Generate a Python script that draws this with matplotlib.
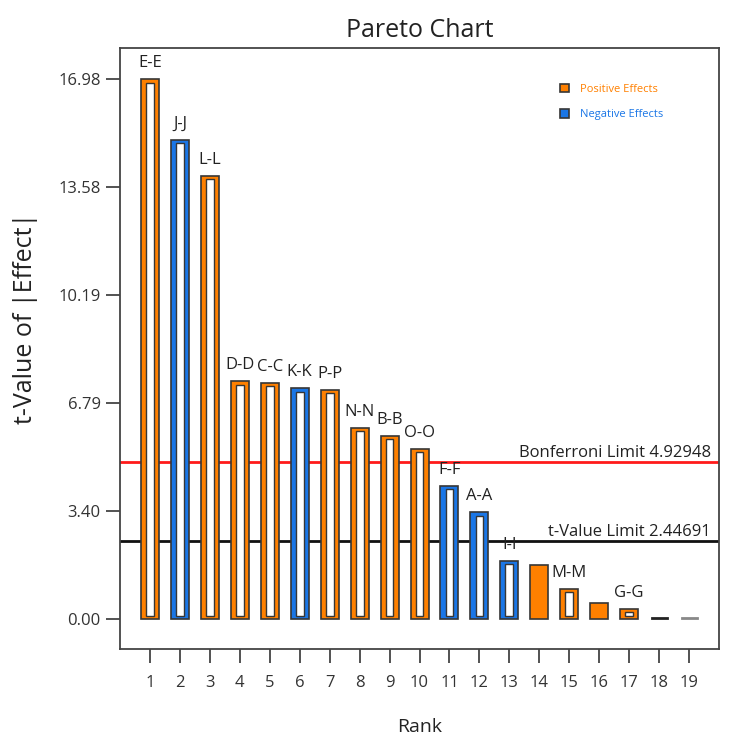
import numpy as np
import matplotlib.pyplot as plt
from matplotlib.patches import Patch

plt.rcParams['font.family'] = ['Open Sans', 'DejaVu Sans']

# t値（絶対値）とラベル
ranks = np.arange(1, 20)
t_values = [16.98, 15.08, 13.95, 7.48, 7.43, 7.26, 7.22, 6.01, 5.77, 5.35,
            4.20, 3.36, 1.84, 1.70, 0.96, 0.52, 0.31, 0.04, 0.02]
term_labels = ['E-E', 'J-J', 'L-L', 'D-D', 'C-C', 'K-K', 'P-P', 'N-N', 'B-B', 'O-O',
               'F-F', 'A-A', 'I-I', '', 'M-M', '', 'G-G', '', '']
signs = ['+', '-', '+', '+', '+', '-', '+', '+', '+', '+',
         '-', '-', '-', '+', '+', '+', '+', '+', '+']
hollow = [True] * 13 + [False, True, False, True, False, False]

bonferroni = 4.92948
t_limit = 2.44691
yticks = np.linspace(0, 16.98, 6)

orange = '#ff8000'
blue = '#1a76e6'
edge = '#363636'

fig = plt.figure(figsize=(7.3, 7.38), dpi=100)
ax = fig.add_axes([0.1644, 0.1206, 0.8206, 0.8144])

# 限界線
ax.axhline(bonferroni, color='#ff1a1a', lw=2, zorder=1)
ax.axhline(t_limit, color='#111111', lw=2, zorder=1)
ax.text(19.73, bonferroni + 0.17, 'Bonferroni Limit %.5f' % bonferroni,
        ha='right', va='baseline', fontsize=12, color='#222222')
ax.text(19.73, t_limit + 0.18, 't-Value Limit %.5f' % t_limit,
        ha='right', va='baseline', fontsize=12, color='#222222')

width = 0.6
inner_w = 0.26
inset = 0.1
for r, h, lab, s, hol in zip(ranks, t_values, term_labels, signs, hollow):
    fc = orange if s == '+' else blue
    if h < 0.1:
        # ほぼゼロの項は線だけ
        lc = '#222222' if r == 18 else '#888888'
        ax.plot([r - width / 2 + 0.05, r + width / 2 - 0.05], [h, h], color=lc, lw=2, zorder=3)
        continue
    ax.bar(r, h, width=width, color=fc, edgecolor=edge, lw=1.2, zorder=3)
    if hol:
        ax.bar(r, h - 2 * inset, bottom=inset, width=inner_w, color='white',
               edgecolor=edge, lw=1.0, zorder=4)
    if lab:
        ax.text(r, h + 0.38, lab, ha='center', va='baseline', fontsize=12, color='#222222')

ax.set_xlim(0, 20)
ax.set_ylim(-0.94, 17.97)
ax.set_xticks(ranks)
ax.set_yticks(yticks)
ax.set_yticklabels(['%.2f' % v for v in yticks])
ax.tick_params(axis='both', direction='out', length=10, width=1.3, colors='#444444',
               labelcolor='#333333', labelsize=12)
ax.tick_params(axis='x', pad=9)
ax.tick_params(axis='y', pad=4)
for sp in ax.spines.values():
    sp.set_color('#444444')
    sp.set_linewidth(1.3)

ax.set_title('Pareto Chart', fontsize=18, color='#222222', pad=8)
ax.set_xlabel('Rank', fontsize=14, color='#222222', labelpad=19)
ax.set_ylabel('t-Value of |Effect|', fontsize=18, color='#222222')
ax.yaxis.set_label_coords(-0.137, 0.55)

handles = [Patch(facecolor=orange, edgecolor=edge, lw=1.2),
           Patch(facecolor=blue, edgecolor=edge, lw=1.2)]
ax.legend(handles, ['Positive Effects', 'Negative Effects'], loc='upper left',
          bbox_to_anchor=(0.718, 0.957), frameon=False, fontsize=8,
          handlelength=0.8, handleheight=0.8, handletextpad=1.0, labelspacing=1.3,
          labelcolor=[orange, blue])

fig.savefig('out.png', dpi=100)
